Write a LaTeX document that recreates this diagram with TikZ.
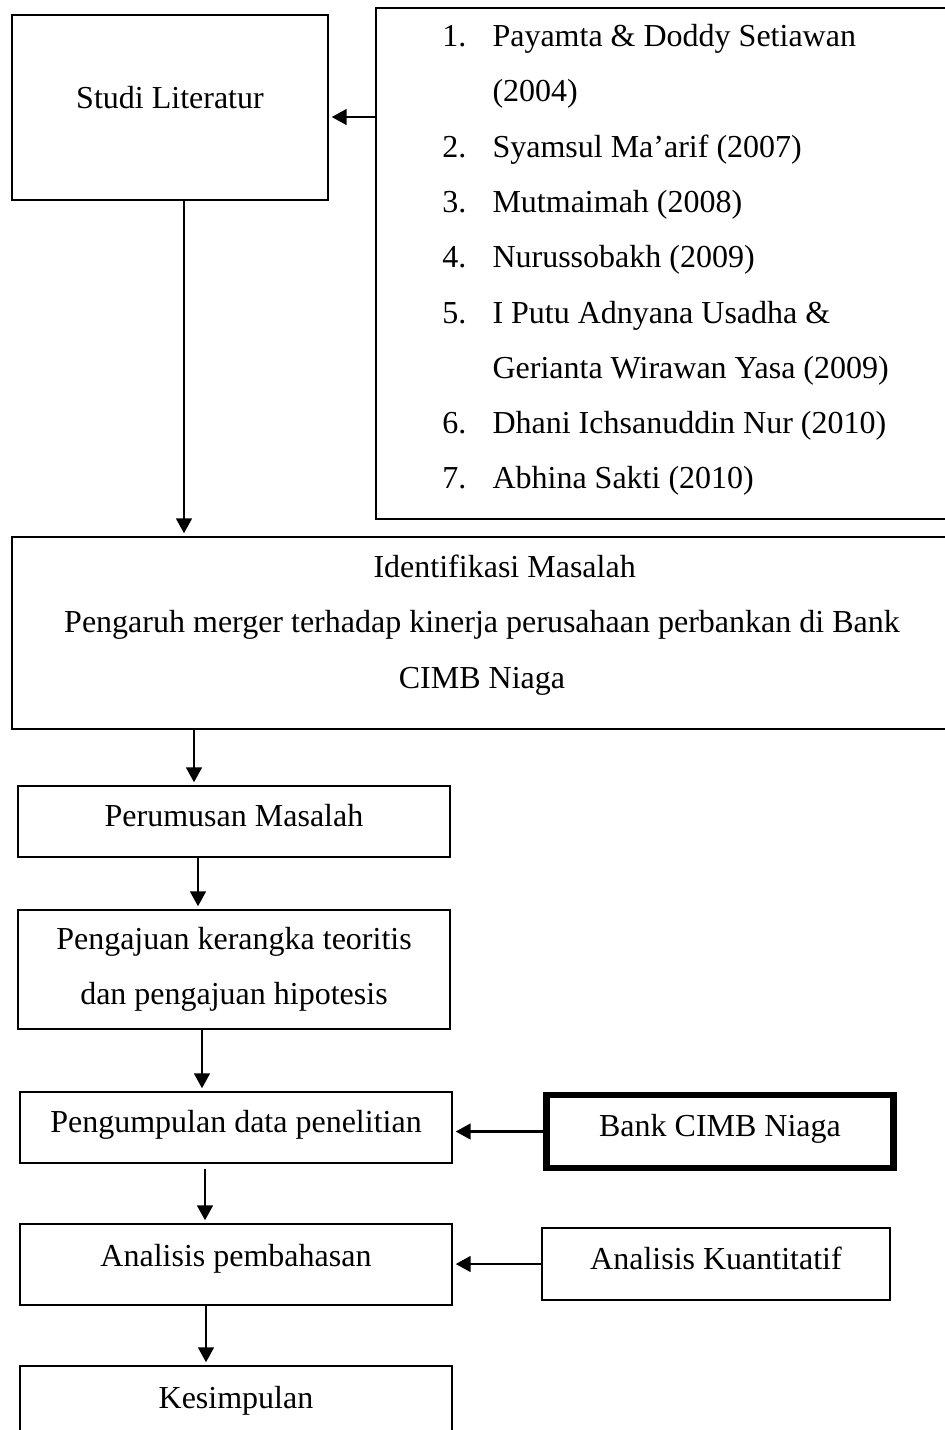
\documentclass[tikz,border=0pt]{standalone}
\usepackage{fontspec}
\setmainfont{Liberation Serif}
\usetikzlibrary{arrows.meta}

\tikzset{
  txt/.style={font=\fontsize{12}{20.7}\selectfont, inner sep=0pt},
  block/.style={txt, draw, line width=0.75pt, align=center},
  single/.style={block, text height=8pt, text depth=4pt},
  arrow/.style={-{Triangle[length=5.6pt,width=5.8pt]}, line width=1.1pt, shorten >=1pt},
}

\begin{document}
\begin{tikzpicture}[x=0.375pt, y=-0.375pt]
  % Constants
  \def\px{0.375pt} % one pixel of the layout
  \useasboundingbox (0,0) rectangle (945,1430);

  % Top row: literature box and list of earlier studies
  \node[single, text depth=7pt, minimum width=316*\px, minimum height=185*\px] (studi) at (170,107.5) {Studi Literatur};
  \node[block, minimum width=584*\px, minimum height=511*\px] (refs) at (668,263.5) {};

  \foreach \num/\entry [count=\i from 0] in {1./Payamta \& Doddy Setiawan, {}/(2004),
      2./Syamsul Ma’arif (2007), 3./Mutmaimah (2008), 4./Nurussobakh (2009),
      5./I Putu Adnyana Usadha \&, {}/Gerianta Wirawan Yasa (2009),
      6./Dhani Ichsanuddin Nur (2010), 7./Abhina Sakti (2010)} {
    \pgfmathsetmacro{\base}{46.5 + 55.3*\i}
    \node[txt, anchor=base east] (num\i) at (467,\base) {\num};
    \node[txt, anchor=base west] (ref\i) at (492,\base) {\entry};
  }

  % Problem identification
  \node[block, minimum width=940*\px, minimum height=192*\px] (iden) at (482,633) {};
  \node[txt, align=center] (idenText) at ([yshift=3pt]iden.center)
    {\hspace*{17pt}Identifikasi Masalah\\
     Pengaruh merger terhadap kinerja perusahaan perbankan di Bank\\
     CIMB Niaga};

  % Main column
  \node[single, minimum width=432*\px, minimum height=71*\px] (perum) at (234,821.5) {Perumusan Masalah};
  \node[block, minimum width=432*\px, minimum height=119*\px] (ajuan) at (234,969.5)
    {Pengajuan kerangka teoritis\\ dan pengajuan hipotesis};
  \node[single, minimum width=432*\px, minimum height=71*\px] (kumpul) at (236,1127.5) {Pengumpulan data penelitian};
  \node[single, text depth=6.5pt, minimum width=432*\px, minimum height=81*\px] (bahas) at (236,1264.5) {Analisis pembahasan};
  \node[single, minimum width=432*\px, minimum height=74*\px] (simpul) at (236,1403) {Kesimpulan};

  % Side inputs
  \node[single, line width=2.6pt, minimum width=347.5*\px, minimum height=73*\px] (bank) at (720,1131.5) {Bank CIMB Niaga};
  \node[single, minimum width=348*\px, minimum height=72*\px] (kuant) at (716,1264) {Analisis Kuantitatif};

  % Connectors
  \draw[arrow] ([yshift=-9.5*\px]studi.east -| refs.west) -- ([yshift=-9.5*\px]studi.east);
  \draw[arrow] ([xshift=14*\px]studi.south) -- ([xshift=14*\px]studi.south |- iden.north);
  \draw[arrow] ([xshift=-40*\px]perum.north |- iden.south) -- ([xshift=-40*\px]perum.north);
  \draw[arrow] ([xshift=-36*\px]perum.south) -- ([xshift=-36*\px]perum.south |- ajuan.north);
  \draw[arrow] ([xshift=-32*\px]ajuan.south) -- ([xshift=-32*\px]ajuan.south |- kumpul.north);
  \draw[arrow, shorten <=1.9pt] ([xshift=-31*\px]kumpul.south) -- ([xshift=-31*\px]kumpul.south |- bahas.north);
  \draw[arrow] ([xshift=-30*\px]bahas.south) -- ([xshift=-30*\px]bahas.south |- simpul.north);
  \draw[arrow] (bank.west) -- (bank.west -| kumpul.east);
  \draw[arrow] (kuant.west) -- (kuant.west -| bahas.east);

\end{tikzpicture}
\end{document}
